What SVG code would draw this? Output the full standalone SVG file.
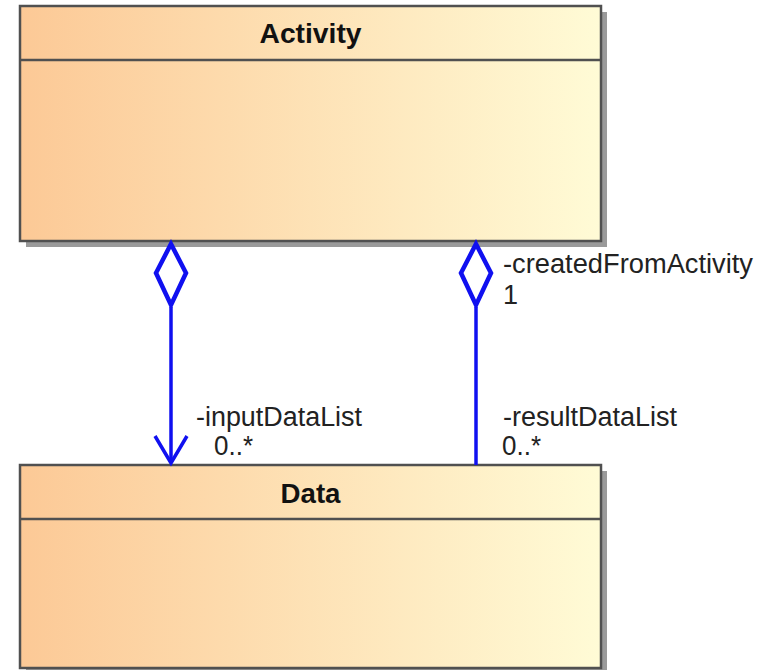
<svg xmlns="http://www.w3.org/2000/svg" width="768" height="670" viewBox="0 0 768 670">
  <defs>
    <linearGradient id="classFill" x1="0" y1="0" x2="1" y2="0">
      <stop offset="0" stop-color="#fcc996"/>
      <stop offset="1" stop-color="#fffbd6"/>
    </linearGradient>
  </defs>
  <style>
    .shadow { fill: #9a9a9a; }
    .box { fill: url(#classFill); stroke: #505050; stroke-width: 2.5; }
    .sep { stroke: #505050; stroke-width: 2.5; }
    .title { font-family: "Liberation Sans", Arial, sans-serif; font-weight: bold; font-size: 27px; fill: #111; text-anchor: middle; }
    .label { font-family: "Liberation Sans", Arial, sans-serif; font-size: 27px; fill: #222; }
    .assoc { fill: none; stroke: #1010f0; stroke-width: 3.5; stroke-linejoin: miter; }
    .diamond { fill: #ffffff; stroke: #1010f0; stroke-width: 4.5; stroke-linejoin: miter; }
  </style>

  <!-- Activity class -->
  <g id="activity">
    <rect class="shadow" x="26" y="12" width="581" height="235"/>
    <rect class="box" x="20" y="6" width="581" height="235"/>
    <line class="sep" x1="20" y1="60" x2="601" y2="60"/>
    <text class="title" x="310.5" y="43" textLength="102" lengthAdjust="spacingAndGlyphs">Activity</text>
  </g>

  <!-- Data class -->
  <g id="data">
    <rect class="shadow" x="26" y="471" width="581" height="203"/>
    <rect class="box" x="20" y="465" width="581" height="203"/>
    <line class="sep" x1="20" y1="519" x2="601" y2="519"/>
    <text class="title" x="310.5" y="503" textLength="60" lengthAdjust="spacingAndGlyphs">Data</text>
  </g>

  <!-- Associations -->
  <g id="connectors">
    <!-- Activity to Data (navigable end), inputDataList -->
    <line class="assoc" x1="171" y1="307" x2="171" y2="463"/>
    <polyline class="assoc" points="155,436 171,463 187,436"/>
    <polygon class="diamond" points="171,244 186,273 171,305 156,273"/>
    <!-- Activity to Data, resultDataList -->
    <line class="assoc" x1="476" y1="307" x2="476" y2="465"/>
    <polygon class="diamond" points="476,244 491,273 476,305 461,273"/>
  </g>

  <!-- Association end labels -->
  <g id="labels">
    <text class="label" x="503" y="273" textLength="250" lengthAdjust="spacingAndGlyphs">-createdFromActivity</text>
    <text class="label" x="503" y="304">1</text>
    <text class="label" x="196" y="426" textLength="166" lengthAdjust="spacingAndGlyphs">-inputDataList</text>
    <text class="label" x="214" y="455" textLength="39" lengthAdjust="spacingAndGlyphs">0..*</text>
    <text class="label" x="503" y="426" textLength="174" lengthAdjust="spacingAndGlyphs">-resultDataList</text>
    <text class="label" x="502" y="455" textLength="39" lengthAdjust="spacingAndGlyphs">0..*</text>
  </g>
</svg>
